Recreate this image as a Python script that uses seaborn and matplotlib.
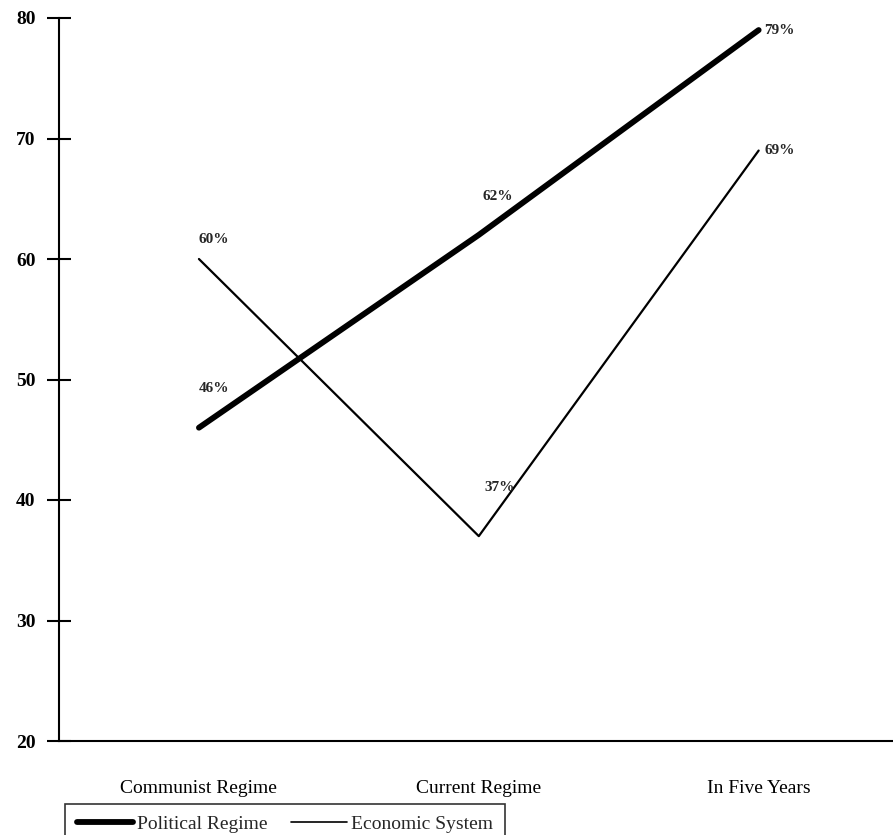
import matplotlib
matplotlib.use("Agg")
import matplotlib.pyplot as plt
import seaborn as sns
import pandas as pd
from matplotlib.lines import Line2D

categories = ["Communist Regime", "Current Regime", "In Five Years"]
political = [46, 62, 79]
economic = [60, 37, 69]
series_names = ["Political Regime", "Economic System"]
yticks = [20, 30, 40, 50, 60, 70, 80]

sns.set_theme(style="white")
plt.rcParams["font.family"] = ["Liberation Serif", "DejaVu Serif"]

df = pd.DataFrame({
    "x": list(range(len(categories))) * 2,
    "value": political + economic,
    "series": [series_names[0]] * 3 + [series_names[1]] * 3,
})

fig = plt.figure(figsize=(8.93, 8.35), dpi=100)
ax = fig.add_axes([59 / 893, 1 - 741 / 835, 1 - 59 / 893, (741 - 18) / 835])

sns.lineplot(data=df, x="x", y="value", hue="series", size="series",
             sizes={series_names[0]: 4.2, series_names[1]: 1.6},
             palette={series_names[0]: "black", series_names[1]: "black"},
             legend=False, ax=ax)
for line in ax.lines:
    line.set_solid_capstyle("round")

ax.set_xlim(-0.5, 2.48)
ax.set_ylim(20, 80)
ax.set_yticks(yticks)
ax.set_yticklabels([str(t) for t in yticks], fontsize=14, fontweight="bold")
ax.set_xticks(range(len(categories)))
ax.set_xticklabels(categories, fontsize=14)
ax.set_xlabel("")
ax.set_ylabel("")
for s in ["top", "right"]:
    ax.spines[s].set_visible(False)
for s in ["left", "bottom"]:
    ax.spines[s].set_color("black")
    ax.spines[s].set_linewidth(1.5)
ax.tick_params(axis="y", left=True, direction="inout", length=17, width=1.5,
               pad=8.5, colors="black")
ax.tick_params(axis="x", bottom=False, length=0, pad=28, colors="black")

# data labels (offsets in points)
offsets_pol = [(0, 28), (3, 28), (4, 0)]
offsets_eco = [(0, 14), (4, 35), (4, 0)]
for i, v in enumerate(political):
    dx, dy = offsets_pol[i]
    ax.annotate(f"{v}%", (i, v), xytext=(dx, dy), textcoords="offset points",
                ha="left", va="center", fontsize=11, fontweight="bold")
for i, v in enumerate(economic):
    dx, dy = offsets_eco[i]
    ax.annotate(f"{v}%", (i, v), xytext=(dx, dy), textcoords="offset points",
                ha="left", va="center", fontsize=11, fontweight="bold")

handles = [Line2D([], [], color="black", lw=4.2, solid_capstyle="round"),
           Line2D([], [], color="black", lw=1.2)]
leg = fig.legend(handles, series_names, loc="upper left",
                 bbox_to_anchor=(65 / 893, 1 - 804 / 835), ncol=2,
                 fontsize=14, frameon=True, fancybox=False, handlelength=2.9,
                 handletextpad=0.2, columnspacing=1.2, borderpad=0.6,
                 borderaxespad=0)
leg.get_frame().set_edgecolor("black")
leg.get_frame().set_linewidth(1.2)

fig.savefig("out.png", dpi=100)
